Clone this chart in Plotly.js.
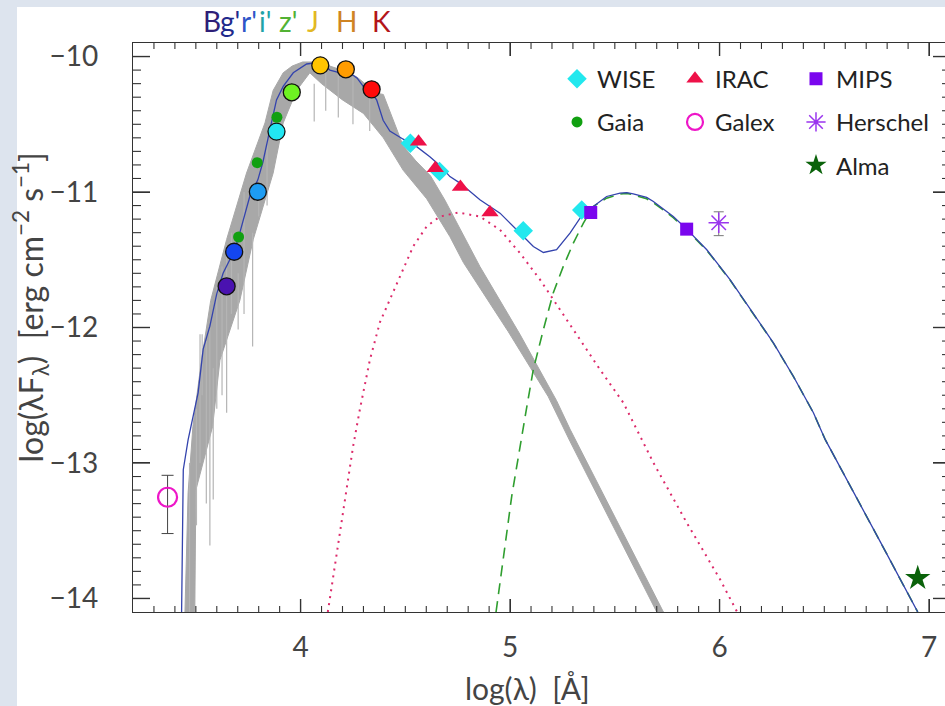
<!DOCTYPE html>
<html>
<head>
<meta charset="utf-8">
<script src="https://cdn.plot.ly/plotly-3.0.1.min.js"></script>
<style>
html, body { margin:0; padding:0; overflow:hidden; background:#dde4ee; width:945px; height:706px; }
#plot { position:absolute; left:0px; top:0px; width:962px; height:706px; }
</style>
</head>
<body>
<div id="plot"></div>
<script>
// ---------- photometry (log lambda [A], log lambda F_lambda) ----------
const photBands = ["B","g'","r'","i'","z'","J","H","K"];
const photX = [3.647, 3.683, 3.796, 3.885, 3.958, 4.094, 4.216, 4.339];
const photY = [-11.696, -11.441, -10.998, -10.554, -10.264, -10.065, -10.094, -10.242];
const photColors = ["#4a12b0", "#1446f0", "#1e9cf2", "#22e6f2", "#6ef222", "#ffc400", "#ff9c00", "#ff0a0a"];

const gaiaX = [3.704, 3.793, 3.887];
const gaiaY = [-11.332, -10.783, -10.448];

const wiseX = [4.524, 4.663, 5.063, 5.342];
const wiseY = [-10.640, -10.849, -11.286, -11.133];

const iracX = [4.563, 4.643, 4.763, 4.904];
const iracY = [-10.628, -10.824, -10.962, -11.151];

const mipsX = [5.385, 5.843];
const mipsY = [-11.151, -11.274];

const herschelX = [5.996];
const herschelY = [-11.227];
const herschelErrPlus = [0.081];
const herschelErrMinus = [0.095];

const galexX = [3.365];
const galexY = [-13.253];
const galexErrPlus = [0.162];
const galexErrMinus = [0.268];

const almaX = [6.946];
const almaY = [-13.850];

// ---------- model curves ----------
const totalX = [3.432,3.440,3.463,3.495,3.511,3.535,3.567,3.600,3.630,3.662,3.683,3.710,3.758,3.796,3.820,3.845,3.862,3.885,3.917,3.965,4.029,4.080,4.110,4.140,4.188,4.235,4.270,4.299,4.340,4.363,4.394,4.426,4.490,4.554,4.617,4.662,4.713,4.761,4.856,4.952,5.047,5.111,5.159,5.222,5.286,5.350,5.397,5.461,5.525,5.557,5.588,5.652,5.684,5.748,5.779,5.843,5.939,6.050,6.161,6.257,6.352,6.448,6.504,6.600,6.770,6.946];
const totalY = [-14.10,-13.05,-12.83,-12.58,-12.48,-12.16,-11.99,-11.75,-11.60,-11.50,-11.44,-11.30,-11.03,-10.91,-10.78,-10.60,-10.47,-10.32,-10.22,-10.12,-10.055,-10.045,-10.06,-10.10,-10.12,-10.12,-10.16,-10.22,-10.27,-10.32,-10.47,-10.55,-10.61,-10.665,-10.74,-10.80,-10.886,-10.934,-11.057,-11.156,-11.303,-11.402,-11.446,-11.426,-11.303,-11.156,-11.107,-11.033,-11.008,-11.004,-11.013,-11.04,-11.07,-11.14,-11.18,-11.274,-11.426,-11.647,-11.892,-12.113,-12.36,-12.629,-12.826,-13.10,-13.59,-14.10];

const coldDustX = [4.933,5.008,5.079,5.111,5.159,5.206,5.254,5.302,5.350,5.397,5.461,5.525,5.557,5.588,5.652,5.684,5.748,5.779,5.843,5.939,6.050,6.161,6.257,6.352,6.448,6.504,6.600,6.770,6.946];
const coldDustY = [-14.10,-13.244,-12.593,-12.31,-12.015,-11.745,-11.549,-11.377,-11.229,-11.107,-11.045,-11.015,-11.010,-11.020,-11.05,-11.08,-11.15,-11.19,-11.28,-11.43,-11.65,-11.895,-12.115,-12.36,-12.63,-12.826,-13.10,-13.59,-14.10];

const warmDustX = [4.130,4.195,4.251,4.283,4.331,4.379,4.474,4.538,4.602,4.665,4.753,4.856,4.952,5.047,5.143,5.238,5.334,5.429,5.541,5.684,5.843,6.002,6.084];
const warmDustY = [-14.10,-13.44,-12.875,-12.605,-12.237,-11.96,-11.62,-11.40,-11.254,-11.181,-11.151,-11.181,-11.279,-11.45,-11.647,-11.868,-12.089,-12.31,-12.556,-12.998,-13.44,-13.858,-14.10];

// stellar spectrum: upper / lower envelope of the grey band, plus absorption lines
const specUpperX = [3.448,3.463,3.486,3.527,3.571,3.647,3.742,3.830,3.869,3.917,3.960,4.010,4.080,4.172,4.267,4.363,4.395,4.490,4.550,4.620,4.689,4.856,5.047,5.222,5.286,5.732];
const specUpperY = [-14.10,-13.22,-12.73,-12.24,-11.80,-11.35,-10.86,-10.49,-10.25,-10.12,-10.07,-10.04,-10.04,-10.087,-10.149,-10.27,-10.28,-10.66,-10.77,-10.88,-11.06,-11.55,-12.05,-12.54,-12.75,-14.10];
const specLowerX = [3.495,3.500,3.580,3.615,3.710,3.774,3.869,3.917,3.981,4.044,4.100,4.200,4.300,4.395,4.490,4.602,4.713,4.777,4.991,5.182,5.286,5.700];
const specLowerY = [-14.10,-13.20,-12.73,-12.24,-11.80,-11.35,-10.86,-10.49,-10.25,-10.12,-10.20,-10.32,-10.42,-10.60,-10.84,-11.05,-11.33,-11.52,-12.03,-12.51,-12.84,-14.10];
const lineX = [3.470,3.503,3.520,3.530,3.550,3.567,3.583,3.600,3.625,3.647,3.670,3.702,3.730,3.771,3.800,3.840,4.065,4.120,4.180,4.250,4.330];
const lineTop = [-13.00,-12.60,-12.05,-12.05,-12.10,-12.00,-12.30,-11.70,-11.55,-11.40,-11.30,-11.60,-11.00,-11.30,-10.95,-10.60,-10.20,-10.10,-10.10,-10.15,-10.25];
const lineBottom = [-14.10,-13.46,-13.00,-12.50,-13.30,-13.61,-13.27,-12.60,-12.50,-12.63,-11.90,-12.015,-11.90,-12.14,-11.18,-11.10,-10.48,-10.40,-10.45,-10.50,-10.55];

// top band labels and their horizontal positions (paper units)
const topLabels = ["B","g'","r'","i'","z'","J","H","K"];
const topLabelColors = ["#2e1f78","#1f2a8c","#2f55c8","#1fa3a8","#52b234","#e2b823","#cf8424","#b3151a"];
const topLabelPos = [0.0961, 0.1188, 0.1420, 0.1610, 0.1897, 0.2203, 0.2619, 0.3036];

// axis ranges
const xRange = [3.2, 7.1];
const yRange = [-14.1, -9.9];

// ---------- layout geometry ----------
const W = 962, H = 706, M = {l: 133, r: 12, t: 43, b: 94};
const plotW = W - M.l - M.r, plotH = H - M.t - M.b;
const pxPerX = plotW / (xRange[1] - xRange[0]);
const pxPerY = plotH / (yRange[1] - yRange[0]);

// inside tick marks on all four sides as line shapes (every 0.1, longer at integers)
const TICK = {xMaj: 13, xMin: 6, yMaj: 17, yMin: 8};
function tickShapes() {
  const shapes = [];
  const ln = (x0, y0, x1, y1, w) => ({type: 'line', xref: 'x', yref: 'y', x0: x0, y0: y0, x1: x1, y1: y1,
                                       layer: 'above', line: {color: '#333', width: w}});
  for (let k = Math.ceil(xRange[0] * 10 + 1e-6); k <= Math.floor(xRange[1] * 10 - 1e-6); k++) {
    const v = k / 10, maj = k % 10 === 0;
    const d = (maj ? TICK.xMaj : TICK.xMin) / pxPerY, w = maj ? 1.4 : 1.1;
    shapes.push(ln(v, yRange[0], v, yRange[0] + d, w), ln(v, yRange[1], v, yRange[1] - d, w));
  }
  for (let k = Math.ceil(yRange[0] * 10 + 1e-6); k <= Math.floor(yRange[1] * 10 - 1e-6); k++) {
    const v = k / 10, maj = k % 10 === 0;
    const d = (maj ? TICK.yMaj : TICK.yMin) / pxPerX, w = maj ? 1.4 : 1.1;
    shapes.push(ln(xRange[0], v, xRange[0] + d, v, w), ln(xRange[1], v, xRange[1] - d, v, w));
  }
  return shapes;
}

// ---------- build traces ----------
const polyX = specUpperX.concat(specLowerX.slice().reverse());
const polyY = specUpperY.concat(specLowerY.slice().reverse());
const spikeX = [], spikeY = [];
lineX.forEach((x, i) => { spikeX.push(x, x, null); spikeY.push(lineTop[i], lineBottom[i], null); });

const FONT = "Lato, 'Open Sans', sans-serif";
const traces = [
  {x: polyX, y: polyY, mode: 'lines', fill: 'toself', fillcolor: '#a8a8a8',
   line: {color: '#a8a8a8', width: 1}, showlegend: false, hoverinfo: 'skip'},
  {x: spikeX, y: spikeY, mode: 'lines', line: {color: '#b5b5b5', width: 1.2}, showlegend: false, hoverinfo: 'skip'},
  {x: warmDustX, y: warmDustY, mode: 'lines', line: {color: '#dc2a6a', width: 2, dash: '2px,5px'}, showlegend: false},
  {x: coldDustX, y: coldDustY, mode: 'lines', line: {color: '#2f9e2f', width: 1.6, dash: '11px,7px'}, showlegend: false},
  {x: totalX, y: totalY, mode: 'lines', line: {color: '#3343ad', width: 1.3}, showlegend: false},
  {x: photX, y: photY, mode: 'markers', text: photBands, showlegend: false,
   marker: {size: 17, color: photColors, line: {color: '#111', width: 1.3}}},
  {x: wiseX, y: wiseY, mode: 'markers', name: 'WISE', legend: 'legend', legendgroup: 'g1',
   marker: {symbol: 'diamond', size: 15, color: '#22e8ee'}},
  {x: gaiaX, y: gaiaY, mode: 'markers', name: 'Gaia', legend: 'legend', legendgroup: 'g2',
   marker: {symbol: 'circle', size: 11, color: '#11a011'}},
  {x: iracX, y: iracY, mode: 'markers', name: 'IRAC', legend: 'legend2', legendgroup: 'g4',
   marker: {symbol: 'triangle-up', size: 15, color: '#ee1148'}},
  {x: galexX, y: galexY, mode: 'markers', name: 'Galex', legend: 'legend2', legendgroup: 'g5',
   error_y: {type: 'data', symmetric: false, array: galexErrPlus, arrayminus: galexErrMinus, color: '#444', thickness: 1, width: 6},
   marker: {symbol: 'circle-open', size: 19, color: '#ee16c8', line: {width: 2.2}}},
  {x: mipsX, y: mipsY, mode: 'markers', name: 'MIPS', legend: 'legend3', legendgroup: 'g6',
   marker: {symbol: 'square', size: 13, color: '#7a06ee'}},
  {x: herschelX, y: herschelY, mode: 'markers', name: 'Herschel', legend: 'legend3', legendgroup: 'g7',
   error_y: {type: 'data', symmetric: false, array: herschelErrPlus, arrayminus: herschelErrMinus, color: '#777', thickness: 1, width: 5},
   marker: {symbol: 'asterisk-open', size: 17, color: '#9a35ee', line: {color: '#9a35ee', width: 1.5}}},
  {x: almaX, y: almaY, mode: 'markers', name: 'Alma', legend: 'legend3', legendgroup: 'g8',
   marker: {symbol: 'star', size: 19, color: '#0a620a'}}
];

function legendBox(x) {
  return {x: x, y: 0.976, xanchor: 'left', yanchor: 'top', bgcolor: 'rgba(0,0,0,0)',
          font: {family: FONT, size: 24, color: '#222'}, tracegroupgap: 9, itemwidth: 30, traceorder: 'grouped'};
}

const axisCommon = {
  showgrid: false, zeroline: false, showline: true, linecolor: '#333', linewidth: 1.3,
  mirror: 'ticks', ticks: 'inside', tickcolor: '#333', tickwidth: 1.3, tickmode: 'linear', tick0: 0, dtick: 1,
  tickfont: {family: FONT, size: 28, color: '#444'}
};

const annotations = topLabels.map((t, i) => ({
  xref: 'paper', yref: 'paper', x: topLabelPos[i], y: 1.039, xanchor: 'center', yanchor: 'middle', showarrow: false,
  text: t, borderpad: 0, font: {family: FONT, size: 28, color: topLabelColors[i]}
}));
annotations.push(
  {xref: 'paper', yref: 'paper', x: 0.483, y: -0.133, xanchor: 'center', yanchor: 'middle', showarrow: false,
   text: 'log(λ)  [Å]', font: {family: FONT, size: 30, color: '#444'}},
  {xref: 'paper', yref: 'paper', x: -0.125, y: 0.535, xanchor: 'center', yanchor: 'middle', showarrow: false, textangle: -90,
   text: 'log(λF<sub>λ</sub>)  [erg cm<sup>−2</sup> s<sup>−1</sup>]', font: {family: FONT, size: 32, color: '#444'}}
);

const layout = {
  width: W, height: H,
  margin: M,
  paper_bgcolor: '#dde4ee', plot_bgcolor: '#ffffff',
  shapes: [
    {type: 'rect', xref: 'paper', yref: 'paper', x0: -0.14198, x1: 1.01469, y0: -0.16520, y1: 1.06327,
     fillcolor: '#ffffff', line: {width: 0}, layer: 'below'}
  ].concat(tickShapes()),
  xaxis: Object.assign({}, axisCommon, {range: xRange, ticklen: TICK.xMaj, ticklabelstandoff: 10}),
  yaxis: Object.assign({}, axisCommon, {range: yRange, ticklen: TICK.yMaj, ticklabelstandoff: 28}),
  legend: legendBox(0.519),
  legend2: legendBox(0.6634),
  legend3: legendBox(0.8115),
  annotations: annotations
};

Plotly.newPlot('plot', traces, layout, {displayModeBar: false});
</script>
</body>
</html>
